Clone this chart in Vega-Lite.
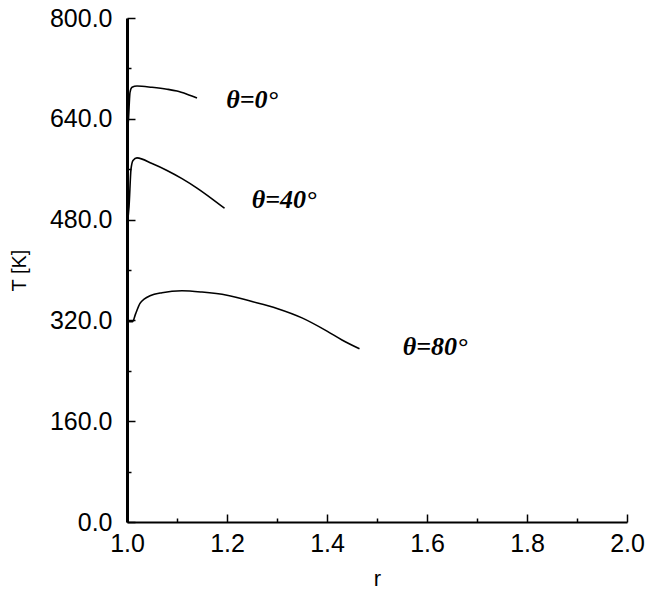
{
  "$schema": "https://vega.github.io/schema/vega-lite/v6.json",
  "width": 500,
  "height": 504,
  "autosize": {"type": "none"},
  "padding": {"left": 127, "top": 18, "right": 29, "bottom": 70},
  "background": "white",
  "config": {"view": {"stroke": null}},
  "layer": [
    {
      "data": {"values": [
        {"series": "0", "r": 1.0, "T": 610},
        {"series": "0", "r": 1.003, "T": 640},
        {"series": "0", "r": 1.006, "T": 682},
        {"series": "0", "r": 1.01, "T": 690},
        {"series": "0", "r": 1.02, "T": 692},
        {"series": "0", "r": 1.05, "T": 690},
        {"series": "0", "r": 1.08, "T": 687},
        {"series": "0", "r": 1.10, "T": 684},
        {"series": "0", "r": 1.12, "T": 679},
        {"series": "0", "r": 1.14, "T": 673},
        {"series": "40", "r": 1.0, "T": 470},
        {"series": "40", "r": 1.004, "T": 500},
        {"series": "40", "r": 1.008, "T": 560},
        {"series": "40", "r": 1.012, "T": 574},
        {"series": "40", "r": 1.02, "T": 578},
        {"series": "40", "r": 1.05, "T": 569},
        {"series": "40", "r": 1.08, "T": 558},
        {"series": "40", "r": 1.11, "T": 545},
        {"series": "40", "r": 1.14, "T": 530},
        {"series": "40", "r": 1.17, "T": 513},
        {"series": "40", "r": 1.195, "T": 498},
        {"series": "80", "r": 1.0, "T": 322},
        {"series": "80", "r": 1.005, "T": 318},
        {"series": "80", "r": 1.011, "T": 318},
        {"series": "80", "r": 1.017, "T": 330},
        {"series": "80", "r": 1.026, "T": 347},
        {"series": "80", "r": 1.035, "T": 354},
        {"series": "80", "r": 1.046, "T": 359},
        {"series": "80", "r": 1.07, "T": 364},
        {"series": "80", "r": 1.11, "T": 367},
        {"series": "80", "r": 1.15, "T": 365},
        {"series": "80", "r": 1.2, "T": 360},
        {"series": "80", "r": 1.25, "T": 350},
        {"series": "80", "r": 1.3, "T": 339},
        {"series": "80", "r": 1.35, "T": 324},
        {"series": "80", "r": 1.4, "T": 303},
        {"series": "80", "r": 1.43, "T": 289},
        {"series": "80", "r": 1.465, "T": 275}
      ]},
      "mark": {"type": "line", "color": "black", "strokeWidth": 1.6, "interpolate": "monotone"},
      "encoding": {
        "x": {
          "field": "r", "type": "quantitative",
          "scale": {"domain": [1, 2], "nice": false, "zero": false},
          "axis": {
            "title": "r",
            "titleFont": "Liberation Sans", "titleFontSize": 22, "titleFontWeight": "normal", "titleColor": "black",
            "titleBaseline": "middle", "titleY": 56,
            "values": [1.0, 1.1, 1.2, 1.3, 1.4, 1.5, 1.6, 1.7, 1.8, 1.9, 2.0],
            "labelExpr": "round(datum.value*10) % 2 == 0 ? format(datum.value, '.1f') : ''",
            "labelFont": "Liberation Sans", "labelFontSize": 25, "labelColor": "black",
            "labelFlush": false, "labelOverlap": false, "labelPadding": 17,
            "grid": false,
            "domainColor": "black", "domainWidth": 2,
            "tickColor": "black", "tickWidth": 1.5,
            "tickSize": {"condition": {"test": "round(datum.value*10) % 2 == 0", "value": -8}, "value": -4}
          }
        },
        "y": {
          "field": "T", "type": "quantitative",
          "scale": {"domain": [0, 800], "nice": false, "zero": true},
          "axis": {
            "title": "T [K]",
            "titleFont": "Liberation Sans", "titleFontSize": 20, "titleFontWeight": "normal", "titleColor": "black",
            "titleBaseline": "middle", "titleX": -108,
            "values": [0, 80, 160, 240, 320, 400, 480, 560, 640, 720, 800],
            "labelExpr": "datum.value % 160 == 0 ? format(datum.value, '.1f') : ''",
            "labelFont": "Liberation Sans", "labelFontSize": 25, "labelColor": "black",
            "labelFlush": false, "labelOverlap": false, "labelPadding": 23,
            "grid": false,
            "domainColor": "black", "domainWidth": 3,
            "tickColor": "black", "tickWidth": 1.5,
            "tickSize": {"condition": {"test": "datum.value % 160 == 0", "value": -8}, "value": -4}
          }
        },
        "detail": {"field": "series"}
      }
    },
    {
      "data": {"values": [
        {"r": 1.25, "T": 657, "label": "θ=0°"},
        {"r": 1.314, "T": 498, "label": "θ=40°"},
        {"r": 1.616, "T": 265, "label": "θ=80°"}
      ]},
      "mark": {"type": "text", "font": "Liberation Serif", "fontSize": 26, "fontStyle": "italic", "fontWeight": "bold", "color": "black", "align": "center", "baseline": "alphabetic"},
      "encoding": {
        "x": {"field": "r", "type": "quantitative"},
        "y": {"field": "T", "type": "quantitative"},
        "text": {"field": "label"}
      }
    }
  ]
}
